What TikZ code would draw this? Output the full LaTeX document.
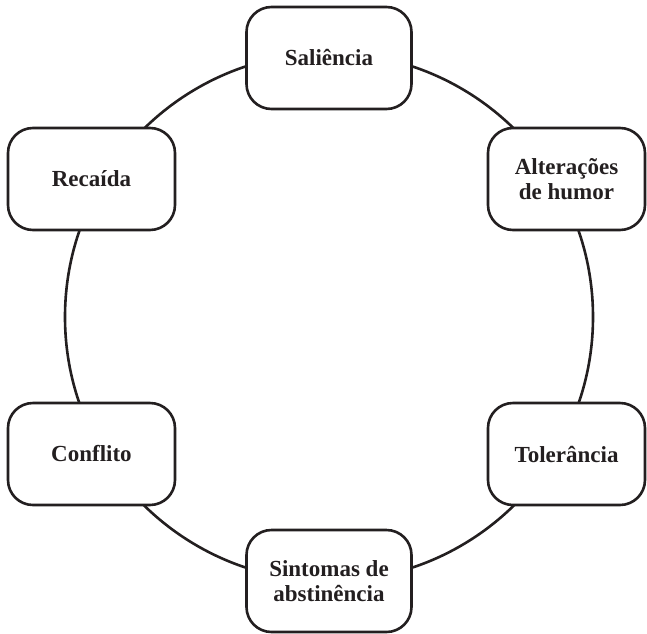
\documentclass[tikz,border=0pt]{standalone}
\usepackage{fontspec}
\setmainfont{Liberation Serif}
\definecolor{tinta}{HTML}{231F20}

\begin{document}
\begin{tikzpicture}[x=1pt, y=1pt]
	\tikzset{caixa/.style={draw=tinta, fill=white, text=tinta, line width=2.6pt, rounded corners=25pt,
			minimum height=102pt, align=center, inner sep=0pt,
			font=\bfseries\fontsize{23}{25}\selectfont},
		ciclo/.style={draw=tinta, line width=2.6pt}};

	\useasboundingbox (-329,-316) rectangle (318,317);

	% o ciclo por tras das caixas
	\draw[ciclo] (0,0) circle (264);

	\foreach \name/\x/\y/\larg/\texto in {sal/0/259/165/{Saliência}, alt/237.5/138/157/{Alterações\\de humor},
		tol/237.5/-137/157/{Tolerância}, sin/0/-264/165/{Sintomas de\\abstinência},
		con/-237.5/-137/167/{Conflito}, rec/-237.5/138/167/{Recaída}}{
		\node[caixa, minimum width=\larg] (\name) at (\x, \y) {\texto};
	}

\end{tikzpicture}
\end{document}
